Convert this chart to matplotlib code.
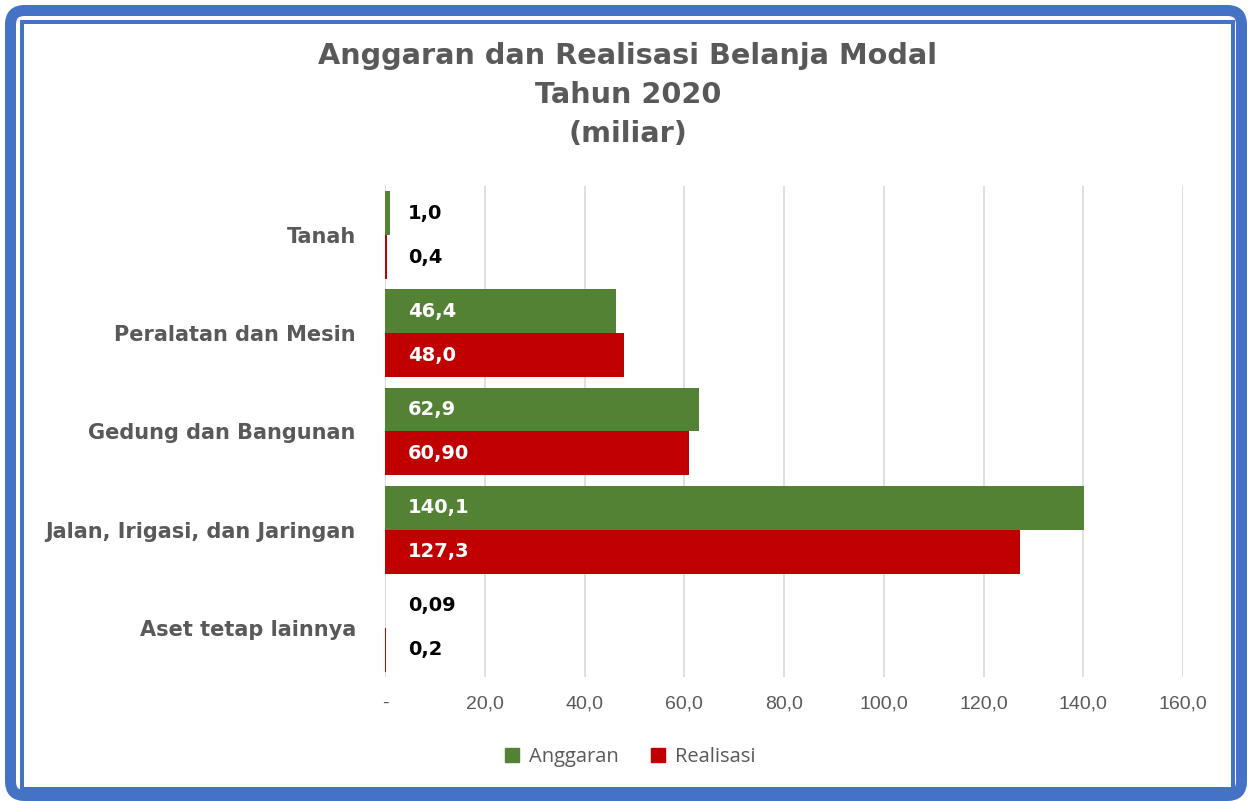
import matplotlib
matplotlib.use("Agg")
import matplotlib.pyplot as plt
from matplotlib.patches import FancyBboxPatch, Rectangle, Patch
from matplotlib.transforms import IdentityTransform

# Data
categories = ["Tanah", "Peralatan dan Mesin", "Gedung dan Bangunan",
              "Jalan, Irigasi, dan Jaringan", "Aset tetap lainnya"]
anggaran = [1.0, 46.4, 62.9, 140.1, 0.09]
realisasi = [0.4, 48.0, 60.9, 127.3, 0.2]
anggaran_lbl = ["1,0", "46,4", "62,9", "140,1", "0,09"]
realisasi_lbl = ["0,4", "48,0", "60,90", "127,3", "0,2"]
xticks = [0, 20, 40, 60, 80, 100, 120, 140, 160]
xtick_lbl = ["-", "20,0", "40,0", "60,0", "80,0", "100,0", "120,0", "140,0", "160,0"]

hijau = "#548235"
merah = "#C00000"
abu = "#595959"

W, H = 1252, 801
fig = plt.figure(figsize=(W / 100, H / 100), dpi=100)
ax = fig.add_axes([385 / W, 1 - 677 / H, (1183 - 385) / W, (677 - 186) / H])

h = 0.447
pos = list(range(len(categories)))
ax.barh([p - h / 2 for p in pos], anggaran, height=h, color=hijau, zorder=3)
ax.barh([p + h / 2 for p in pos], realisasi, height=h, color=merah, zorder=3)

# Label nilai
for p, v, s in zip(pos, anggaran, anggaran_lbl):
    c = "white" if v > 10 else "black"
    ax.annotate(s, (0, p - h / 2), xytext=(16.5, 0), textcoords="offset points",
                ha="left", va="center", color=c, fontsize=14, fontweight="bold",
                family="DejaVu Sans", zorder=4)
for p, v, s in zip(pos, realisasi, realisasi_lbl):
    c = "white" if v > 10 else "black"
    ax.annotate(s, (0, p + h / 2), xytext=(16.5, 0), textcoords="offset points",
                ha="left", va="center", color=c, fontsize=14, fontweight="bold",
                family="DejaVu Sans", zorder=4)

ax.set_ylim(4.5, -0.5)
ax.set_xlim(0, 160)
ax.set_yticks(pos)
ax.set_yticklabels(categories, fontsize=15, fontweight="bold", color=abu,
                   family="DejaVu Sans")
ax.set_xticks(xticks)
ax.set_xticklabels(xtick_lbl, fontsize=14, color=abu, family="Liberation Sans")
ax.tick_params(axis="both", length=0)
ax.tick_params(axis="y", pad=21)
ax.tick_params(axis="x", pad=13)
for sp in ax.spines.values():
    sp.set_visible(False)
ax.grid(axis="x", color="#D9D9D9", linewidth=1.2, zorder=0)
ax.axvline(0, color="#D9D9D9", linewidth=1.2, zorder=1)

fig.text(628 / W, 1 - 95 / H,
         "Anggaran dan Realisasi Belanja Modal\nTahun 2020\n(miliar)",
         ha="center", va="center", fontsize=20.7, fontweight="bold", color=abu,
         family="DejaVu Sans", linespacing=1.52)

handles = [Patch(color=hijau, label="Anggaran"), Patch(color=merah, label="Realisasi")]
fig.legend(handles=handles, loc="center", bbox_to_anchor=(630 / W, 1 - 757 / H),
           ncol=2, frameon=False, handlelength=0.7, handleheight=0.7,
           handletextpad=0.5, columnspacing=1.6,
           prop={"family": "Open Sans", "size": 14.5}, labelcolor=abu)

# Bingkai biru
biru = "#4472C4"
fig.patches.append(FancyBboxPatch((10.5, 5.5), W - 21, H - 16,
                                  boxstyle="round,pad=0,rounding_size=14",
                                  fill=False, edgecolor=biru, linewidth=11 * 0.72,
                                  transform=IdentityTransform(), figure=fig))
fig.patches.append(Rectangle((22, 12), W - 41, H - 34, fill=False,
                             edgecolor=biru, linewidth=4 * 0.72,
                             transform=IdentityTransform(), figure=fig))

fig.savefig("out.png", dpi=100)
